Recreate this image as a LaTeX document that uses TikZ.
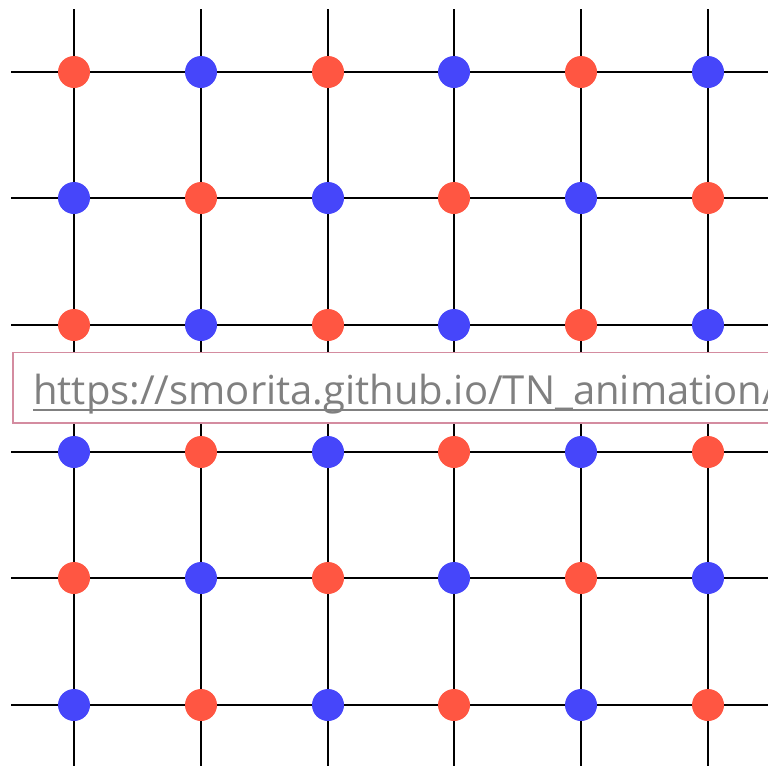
\documentclass[tikz,border=0pt]{standalone}
\usepackage{fontspec}
\setmainfont{Open Sans}
\definecolor{dotred}{RGB}{255,86,66}
\definecolor{dotblue}{RGB}{70,70,250}
\definecolor{boxpink}{RGB}{212,140,160}
\definecolor{urlgray}{RGB}{128,128,128}
\begin{document}
\begin{tikzpicture}[x=1pt,y=-1pt,
  gridline/.style={draw=black,line width=2.2pt},
  dotnode/.style={circle,inner sep=0pt,minimum size=32pt,draw=none},
  reddot/.style={dotnode,fill=dotred},
  bluedot/.style={dotnode,fill=dotblue},
  urlbox/.style={draw=boxpink,line width=1.6pt,fill=white},
  urltext/.style={text=urlgray,font=\fontsize{40}{42}\selectfont,anchor=base west,inner sep=0pt}]
\useasboundingbox (0,0) rectangle (768,766);
\clip (0,0) rectangle (768,766);
\def\xs{74,201,328,454,581,708}
\def\ys{72,198,325,452,578,705}
\foreach \y [count=\j] in \ys {
  \coordinate (hl\j) at (11,\y);
  \coordinate (hr\j) at (768,\y);
  \draw[gridline] (hl\j) -- (hr\j);
}
\foreach \x [count=\i] in \xs {
  \coordinate (vt\i) at (\x,9);
  \coordinate (vb\i) at (\x,766);
  \draw[gridline] (vt\i) -- (vb\i);
}
\foreach \y [count=\j] in \ys {
  \foreach \x [count=\i] in \xs {
    \pgfmathtruncatemacro{\parity}{mod(\i+\j,2)}
    \ifnum\parity=0
      \node[reddot] (d-\i-\j) at (\x,\y) {};
    \else
      \node[bluedot] (d-\i-\j) at (\x,\y) {};
    \fi
  }
}
\path[urlbox] (13,352.5) rectangle (800,423);
\node[urltext] (url) at (33,404) {https://smorita.github.io/TN\_animation/};
\draw[urlgray,line width=1.6pt] (url.base west) ++(0,6) -- ([yshift=-6pt]url.base east);
\end{tikzpicture}
\end{document}
